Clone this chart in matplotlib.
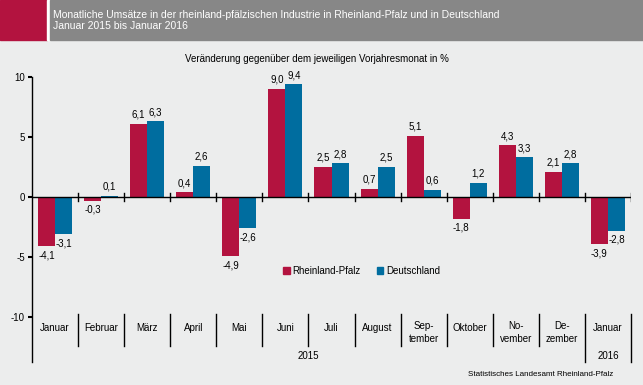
import matplotlib
matplotlib.use("Agg")
import matplotlib.pyplot as plt
from matplotlib.patches import Rectangle, Patch
import numpy as np

plt.rcParams['font.family'] = ['Liberation Sans', 'DejaVu Sans']

# Data
months = ["Januar", "Februar", "März", "April", "Mai", "Juni", "Juli", "August",
          "Sep-\ntember", "Oktober", "No-\nvember", "De-\nzember", "Januar"]
rlp = [-4.1, -0.3, 6.1, 0.4, -4.9, 9.0, 2.5, 0.7, 5.1, -1.8, 4.3, 2.1, -3.9]
de = [-3.1, 0.1, 6.3, 2.6, -2.6, 9.4, 2.8, 2.5, 0.6, 1.2, 3.3, 2.8, -2.8]
years = ["2015", "2016"]
year_spans = [(0, 11), (12, 12)]

RED = "#B3133F"
BLUE = "#006D9F"
BG = "#ECEDED"

W, H = 643, 385
fig = plt.figure(figsize=(W / 100, H / 100), dpi=100, facecolor=BG)

# header
fig.patches.append(Rectangle((0, 1 - 40 / H), 47 / W, 40 / H, transform=fig.transFigure,
                             color="#B3133F", zorder=0))
fig.patches.append(Rectangle((47 / W, 1 - 40 / H), 3 / W, 40 / H, transform=fig.transFigure,
                             color="white", zorder=0))
fig.patches.append(Rectangle((50 / W, 1 - 40 / H), 1 - 50 / W, 40 / H, transform=fig.transFigure,
                             color="#878787", zorder=0))
fig.text(53 / W, 1 - 15 / H, "Monatliche Umsätze in der rheinland-pfälzischen Industrie in Rheinland-Pfalz und in Deutschland",
         color="white", fontsize=7.5, va="center", ha="left")
fig.text(53 / W, 1 - 26 / H, "Januar 2015 bis Januar 2016", color="white", fontsize=7.5,
         va="center", ha="left")
fig.text(317 / W, 1 - 59 / H, "Veränderung gegenüber dem jeweiligen Vorjahresmonat in %",
         fontsize=7, ha="center", va="center")
fig.text(613 / W, 1 - 375 / H, "Statistisches Landesamt Rheinland-Pfalz", fontsize=5.8,
         ha="right", va="center")

ax = fig.add_axes([32 / W, (H - 317) / H, 599 / W, 240 / H])
ax.set_facecolor("none")
x = np.arange(len(months))
w = 0.37
ax.bar(x - w / 2, rlp, w, color=RED, label="Rheinland-Pfalz", zorder=2)
ax.bar(x + w / 2, de, w, color=BLUE, label="Deutschland", zorder=2)

for i in range(len(months)):
    for xx, v in ((x[i] - w / 2, rlp[i]), (x[i] + w / 2, de[i])):
        s = ("%.1f" % v).replace(".", ",")
        if v >= 0:
            ax.text(xx, v + 0.35, s, ha="center", va="bottom", fontsize=7)
        else:
            ax.text(xx, v - 0.35, s, ha="center", va="top", fontsize=7)

ax.set_xlim(-0.5, len(months) - 0.5)
ax.set_ylim(-10, 10)
ax.set_yticks([-10, -5, 0, 5, 10])
ax.set_yticklabels(["-10", "-5", "0", "5", "10"], fontsize=7)
ax.tick_params(axis="y", length=3, width=1.5, pad=2)
ax.set_xticks([])
for sp in ["top", "right", "bottom", "left"]:
    ax.spines[sp].set_visible(False)

# zero line with ticks
ax.axhline(0, color="black", lw=1, zorder=3)
for b in np.arange(0.5, len(months), 1.0):
    ax.plot([b, b], [-0.35, 0.35], color="black", lw=1, zorder=3)

# left axis line down through label area
ax.plot([-0.5, -0.5], [10, -13.75], color="black", lw=1, clip_on=False)
ax.plot([12.5, 12.5], [-9.75, -13.75], color="black", lw=1, clip_on=False)
for b in np.arange(0.5, 12, 1.0):
    bottom = -13.75 if b == 11.5 else -12.42
    ax.plot([b, b], [-9.75, bottom], color="black", lw=1, clip_on=False)

# month labels
for i, m in enumerate(months):
    yy = -11.3 if "\n" in m else -10.92
    ax.text(i, yy, m, ha="center", va="center", fontsize=7, linespacing=1.3, clip_on=False)
for yr, (a, b) in zip(years, year_spans):
    ax.text((a + b) / 2, -13.25, yr, ha="center", va="center", fontsize=7, clip_on=False)

handles = [Patch(color=RED, label="Rheinland-Pfalz"), Patch(color=BLUE, label="Deutschland")]
fig.legend(handles=handles, loc="center left", bbox_to_anchor=(283 / W, 1 - 271 / H), ncol=2,
           frameon=False, fontsize=7, handlelength=0.7, handleheight=0.7, handletextpad=0.3,
           columnspacing=1.6, borderpad=0, borderaxespad=0)

fig.savefig("out.png", dpi=100, facecolor=BG)
